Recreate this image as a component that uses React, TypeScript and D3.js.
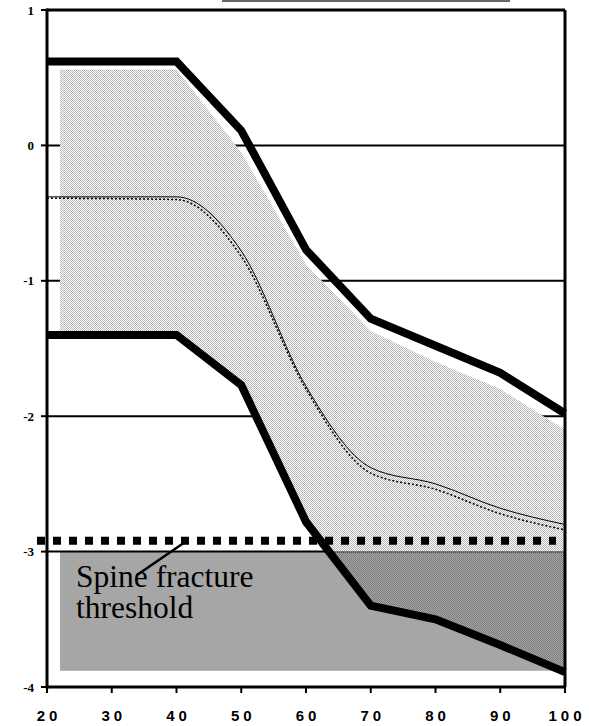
import React from "react";
import * as d3 from "d3";

// ages along the x axis and the values of each curve
const ages = [20, 40, 50, 60, 70, 80, 90, 100];
const upper = [0.62, 0.62, 0.11, -0.77, -1.28, -1.48, -1.68, -1.98];
const lower = [-1.4, -1.4, -1.77, -2.78, -3.4, -3.5, -3.69, -3.89];
const meanSolid = [-0.38, -0.38, -0.78, -1.78, -2.38, -2.5, -2.68, -2.8];
const meanDotted = [-0.39, -0.4, -0.82, -1.8, -2.42, -2.54, -2.72, -2.84];

const shadeAges = [22, 40, 50, 60, 70, 80, 90, 100];
const shadeTop = [0.56, 0.56, -0.05, -0.88, -1.37, -1.6, -1.8, -2.1];
const shadeBottom = [-1.4, -1.4, -1.77, -2.78, -3.4, -3.5, -3.69, -3.89];

const threshold = -2.92;
const zoneAges = [22, 100];
const zoneValues = [-3, -3.88];

const xTicks = [20, 30, 40, 50, 60, 70, 80, 90, 100];
const yTicks = [1, 0, -1, -2, -3, -4];
const gridValues = [0, -1, -2, -3];

const serif = "'Liberation Serif', 'Times New Roman', serif";
const sans = "'Liberation Sans', Arial, sans-serif";

export default function App() {
  const width = 589;
  const height = 726;
  const margin = { left: 47, right: 24, top: 10, bottom: 39 };

  const x = d3.scaleLinear().domain([20, 100]).range([margin.left, width - margin.right]);
  const y = d3.scaleLinear().domain([-4, 1]).range([height - margin.bottom, margin.top]);

  const line = d3
    .line<number>()
    .x((d, i) => x(ages[i]))
    .y((d) => y(d));

  const smooth = d3
    .line<number>()
    .x((d, i) => x(ages[i]))
    .y((d) => y(d))
    .curve(d3.curveMonotoneX);

  const shade = d3
    .area<number>()
    .x((d, i) => x(shadeAges[i]))
    .y0((d, i) => y(shadeBottom[i]))
    .y1((d) => y(d));

  const x0 = x(20);
  const x1 = x(100);
  const yTop = y(1);
  const yBot = y(-4);

  return (
    <svg
      width={width}
      height={height}
      style={{ position: "absolute", left: 0, top: 0, background: "#fff" }}
    >
      <defs>
        <pattern id="light" width={2} height={2} patternUnits="userSpaceOnUse">
          <rect x={0} y={0} width={2} height={2} fill="#fff" />
          <rect x={0} y={0} width={1} height={1} fill="#b4b4b4" />
          <rect x={1} y={1} width={1} height={1} fill="#b4b4b4" />
        </pattern>
        <pattern id="dark" width={2} height={2} patternUnits="userSpaceOnUse">
          <rect x={0} y={0} width={1} height={1} fill="#7c7c7c" />
          <rect x={1} y={1} width={1} height={1} fill="#7c7c7c" />
        </pattern>
        <clipPath id="above">
          <rect x={0} y={0} width={width} height={y(-3)} />
        </clipPath>
        <clipPath id="below">
          <rect x={0} y={y(-3)} width={width} height={height} />
        </clipPath>
      </defs>

      {/* line at the very top of the picture */}
      <rect x={222} y={0} width={288} height={2} fill="#666" />

      {/* threshold zone */}
      <rect
        x={x(zoneAges[0])}
        y={y(zoneValues[0])}
        width={x(zoneAges[1]) - x(zoneAges[0])}
        height={y(zoneValues[1]) - y(zoneValues[0])}
        fill="#a6a6a6"
      />

      {gridValues.map((v) => (
        <line key={v} x1={x0} x2={x1} y1={y(v)} y2={y(v)} stroke="#000" strokeWidth={2} />
      ))}

      <path d={shade(shadeTop) || ""} fill="url(#light)" clipPath="url(#above)" />
      <path d={shade(shadeTop) || ""} fill="url(#dark)" clipPath="url(#below)" />

      <path d={smooth(meanSolid) || ""} fill="none" stroke="#000" strokeWidth={1} />
      <path
        d={smooth(meanDotted) || ""}
        fill="none"
        stroke="#000"
        strokeWidth={1.5}
        strokeDasharray="2,2"
      />

      <path d={line(upper) || ""} fill="none" stroke="#000" strokeWidth={8} strokeLinejoin="miter" />
      <path d={line(lower) || ""} fill="none" stroke="#000" strokeWidth={8} strokeLinejoin="miter" />

      <line
        x1={37}
        x2={556}
        y1={y(threshold)}
        y2={y(threshold)}
        stroke="#000"
        strokeWidth={8}
        strokeDasharray="8,8"
      />

      <line x1={137} y1={575} x2={188} y2={540} stroke="#000" strokeWidth={2.5} />
      <text style={{ fontFamily: serif }} fontSize={31.5} fill="#000">
        <tspan x={76} y={587}>Spine fracture</tspan>
        <tspan x={76} y={618}>threshold</tspan>
      </text>

      {/* frame */}
      <line x1={x0} x2={x1} y1={yTop} y2={yTop} stroke="#000" strokeWidth={3} />
      <line x1={x1} x2={x1} y1={yTop} y2={yBot} stroke="#000" strokeWidth={3} />
      <line x1={x0} x2={x0} y1={yTop - 1.5} y2={yBot + 1.5} stroke="#000" strokeWidth={3} />
      <line x1={x0} x2={x1} y1={yBot} y2={yBot} stroke="#000" strokeWidth={3} />

      {yTicks.map((t) => (
        <g key={t}>
          <line x1={x0 - 6} x2={x0} y1={y(t)} y2={y(t)} stroke="#000" strokeWidth={2} />
          <text
            x={34}
            y={y(t)}
            dy="0.35em"
            textAnchor="end"
            style={{ fontFamily: serif, fontWeight: 700 }}
            fontSize={13}
          >
            {t}
          </text>
        </g>
      ))}

      {xTicks.map((t) => (
        <g key={t}>
          <line x1={x(t)} x2={x(t)} y1={yBot} y2={yBot + 6} stroke="#000" strokeWidth={2} />
          <text
            x={x(t) + 2}
            y={721}
            textAnchor="middle"
            style={{ fontFamily: sans, fontWeight: 700 }}
            fontSize={15}
            letterSpacing={4}
          >
            {t}
          </text>
        </g>
      ))}
    </svg>
  );
}
